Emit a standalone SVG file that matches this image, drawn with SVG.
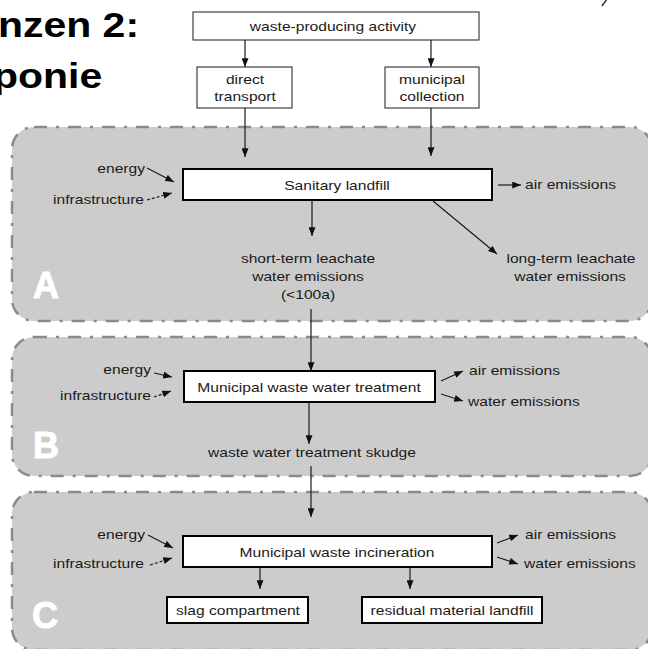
<svg xmlns="http://www.w3.org/2000/svg" width="648" height="649" viewBox="0 0 648 649">
<defs>
<style>
.t{font-family:"Liberation Sans",Arial,sans-serif;font-size:13px;fill:#1a1a1a}
.m{text-anchor:middle}
.e{text-anchor:end}
.title{font-family:"Liberation Sans",Arial,sans-serif;font-size:35px;font-weight:bold;fill:#000}
.big{font-family:"Liberation Sans",Arial,sans-serif;font-size:36px;font-weight:bold;fill:#fff;stroke:#fff;stroke-width:1}
.panel{fill:#cccccc;stroke:#8a8a8a;stroke-width:2.5;stroke-dasharray:13 9 3 9}
.box{fill:#fff;stroke:#1a1a1a;stroke-width:1}
.pbox{fill:#fff;stroke:#000;stroke-width:2}
.c{fill:none;stroke:#1a1a1a;stroke-width:1.2;marker-end:url(#ah)}
.d{stroke-dasharray:3 2}
</style>
<marker id="ah" viewBox="0 0 10 8" refX="10" refY="4" markerWidth="9" markerHeight="7" orient="auto" markerUnits="userSpaceOnUse"><path d="M0,0 L10,4 L0,8 z" fill="#111"/></marker>
</defs>
<rect width="648" height="649" fill="#fff"/>
<g id="title">
<text class="title" transform="translate(-2,37) scale(1.17,1)">nzen 2:</text>
<text class="title" transform="translate(-7,88) scale(1.17,1)">ponie</text>
<line x1="602" y1="6" x2="607" y2="-1" stroke="#333" stroke-width="1.5"/>
</g>
<g id="panels">
<rect id="panelA" class="panel" x="12" y="127" width="640" height="194" rx="22"/>
<rect id="panelB" class="panel" x="12" y="337" width="640" height="139" rx="22"/>
<rect id="panelC" class="panel" x="12" y="492" width="640" height="158" rx="22"/>
<text class="big" x="33" y="298">A</text>
<text class="big" x="33" y="458">B</text>
<text class="big" x="32" y="628">C</text>
</g>
<g id="connectors">
<line class="c" x1="245" y1="40" x2="245" y2="67"/>
<line class="c" x1="431" y1="40" x2="431" y2="67"/>
<line class="c" x1="245" y1="108" x2="245" y2="157"/>
<line class="c" x1="431" y1="108" x2="431" y2="156"/>
<line class="c" x1="147" y1="168" x2="174" y2="182"/>
<line class="c d" x1="147" y1="200" x2="172" y2="193"/>
<line class="c" x1="498" y1="185" x2="521" y2="185"/>
<line class="c" x1="312" y1="200" x2="312" y2="236"/>
<line class="c" x1="433" y1="201" x2="497" y2="254"/>
<line class="c" x1="311" y1="309" x2="311" y2="371"/>
<line class="c" x1="154" y1="373" x2="172" y2="377"/>
<line class="c d" x1="154" y1="397" x2="171" y2="391"/>
<line class="c" x1="441" y1="381" x2="463" y2="371"/>
<line class="c" x1="441" y1="394" x2="463" y2="401"/>
<line class="c" x1="309" y1="402" x2="309" y2="444"/>
<line class="c" x1="311" y1="466" x2="311" y2="517"/>
<line class="c" x1="148" y1="535" x2="173" y2="548"/>
<line class="c d" x1="150" y1="565" x2="172" y2="558"/>
<line class="c" x1="497" y1="543" x2="518" y2="535"/>
<line class="c" x1="497" y1="557" x2="518" y2="564"/>
<line class="c" x1="260" y1="567" x2="260" y2="589"/>
<line class="c" x1="410" y1="567" x2="410" y2="589"/>
</g>
<g id="waste-producing">
<rect class="box" x="193" y="12" width="286" height="28"/>
<text class="t m" transform="translate(333,31) scale(1.2,1)">waste-producing activity</text>
</g>
<g id="direct-transport">
<rect class="box" x="197" y="67" width="95" height="41"/>
<text class="t m" transform="translate(245,84) scale(1.2,1)">direct</text>
<text class="t m" transform="translate(245,101) scale(1.2,1)">transport</text>
</g>
<g id="municipal-collection">
<rect class="box" x="385" y="67" width="94" height="41"/>
<text class="t m" transform="translate(432,84) scale(1.2,1)">municipal</text>
<text class="t m" transform="translate(432,101) scale(1.2,1)">collection</text>
</g>
<g id="sanitary-landfill">
<rect class="pbox" x="183" y="169" width="309" height="31"/>
<text class="t m" transform="translate(337,190) scale(1.2,1)">Sanitary landfill</text>
</g>
<g id="A-inputs-outputs">
<text class="t e" transform="translate(145,173) scale(1.2,1)">energy</text>
<text class="t e" transform="translate(144,204) scale(1.2,1)">infrastructure</text>
<text class="t" transform="translate(525,189) scale(1.2,1)">air emissions</text>
<text class="t m" transform="translate(308,263) scale(1.2,1)">short-term leachate</text>
<text class="t m" transform="translate(308,281) scale(1.2,1)">water emissions</text>
<text class="t m" transform="translate(308,299) scale(1.2,1)">(&lt;100a)</text>
<text class="t m" transform="translate(571,263) scale(1.2,1)">long-term leachate</text>
<text class="t m" transform="translate(570,281) scale(1.2,1)">water emissions</text>
</g>
<g id="wastewater-treatment">
<rect class="pbox" x="184" y="371" width="251" height="31"/>
<text class="t m" transform="translate(309,392) scale(1.2,1)">Municipal waste water treatment</text>
</g>
<g id="B-inputs-outputs">
<text class="t e" transform="translate(151,374) scale(1.2,1)">energy</text>
<text class="t e" transform="translate(151,400) scale(1.2,1)">infrastructure</text>
<text class="t" transform="translate(469,375) scale(1.2,1)">air emissions</text>
<text class="t" transform="translate(468,406) scale(1.2,1)">water emissions</text>
<text class="t m" transform="translate(312,457) scale(1.2,1)">waste water treatment skudge</text>
</g>
<g id="incineration">
<rect class="pbox" x="183" y="536" width="309" height="31"/>
<text class="t m" transform="translate(337,557) scale(1.2,1)">Municipal waste incineration</text>
</g>
<g id="C-inputs-outputs">
<text class="t e" transform="translate(145,539) scale(1.2,1)">energy</text>
<text class="t e" transform="translate(144,568) scale(1.2,1)">infrastructure</text>
<text class="t" transform="translate(525,539) scale(1.2,1)">air emissions</text>
<text class="t" transform="translate(524,568) scale(1.2,1)">water emissions</text>
</g>
<g id="slag-compartment">
<rect class="pbox" x="167" y="597" width="141" height="26"/>
<text class="t m" transform="translate(238,615) scale(1.2,1)">slag compartment</text>
</g>
<g id="residual-landfill">
<rect class="pbox" x="362" y="597" width="180" height="26"/>
<text class="t m" transform="translate(452,615) scale(1.2,1)">residual material landfill</text>
</g>
</svg>
